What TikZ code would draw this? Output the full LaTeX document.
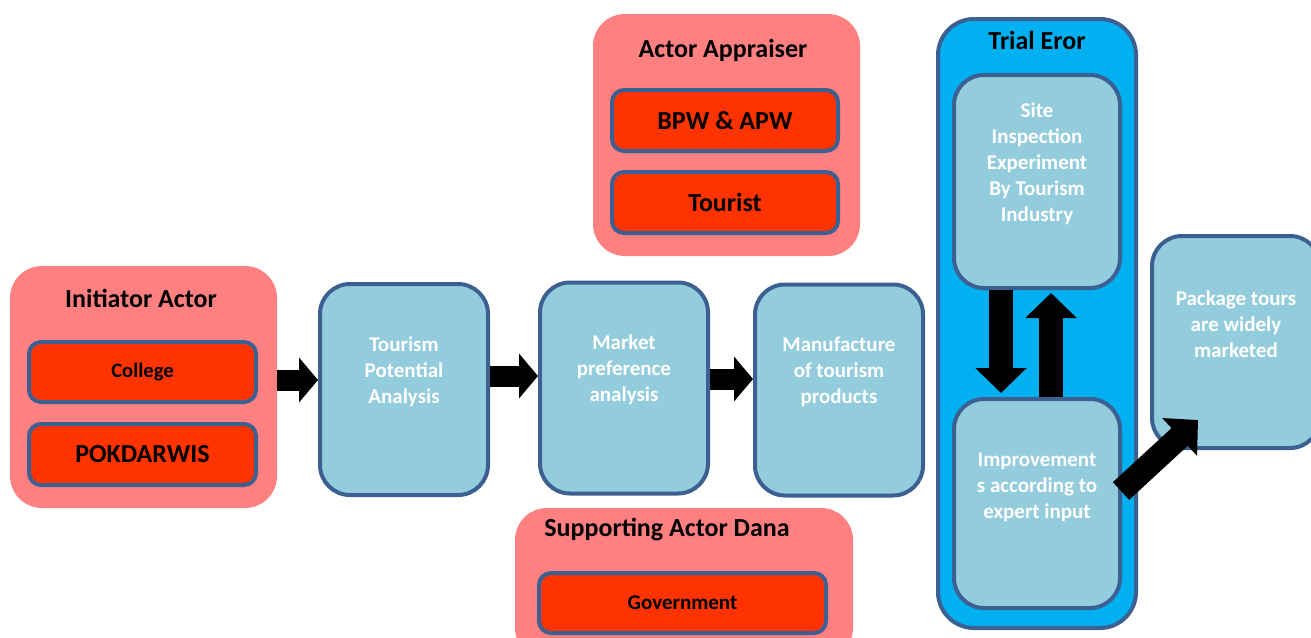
\documentclass[tikz,border=0pt]{standalone}
\usepackage{fontspec}
\setmainfont{Carlito}
\usetikzlibrary{arrows.meta}
\definecolor{pinkc}{RGB}{255,128,128}
\definecolor{redc}{RGB}{255,51,0}
\definecolor{lightb}{RGB}{147,205,221}
\definecolor{borderc}{RGB}{60,96,145}
\definecolor{trialb}{RGB}{0,176,240}
\begin{document}
\begin{tikzpicture}[x=0.5pt,y=-0.5pt,
  container/.style={fill=pinkc, rounded corners=16pt, inner sep=0pt},
  redbox/.style={fill=redc, draw=borderc, line width=2pt, rounded corners=6pt, inner sep=0pt},
  bluebox/.style={fill=lightb, draw=borderc, line width=2pt, rounded corners=15pt, inner sep=0pt, minimum width=84pt, minimum height=105.5pt},
  ttl/.style={font=\bfseries\fontsize{13}{15}\selectfont, text=black},
  wtext/.style={text=white, font=\bfseries\fontsize{10.5}{13}\selectfont, align=center},
  harrow/.style={line width=10.5pt, -{Triangle[length=9.5pt,width=22pt]}},
  varrow/.style={line width=12pt, -{Triangle[length=12.5pt,width=25pt]}}
]
\path[use as bounding box] (0,0) rectangle (1311,637);
\clip (0,0) rectangle (1311,637);

% Initiator Actor
\node[container, minimum width=133.5pt, minimum height=121pt] (initC) at (143.5,387) {};
\node[ttl] (initT) at (141,298) {Initiator Actor};
\node[redbox, minimum width=113.5pt, minimum height=30pt, font=\bfseries\fontsize{10.3}{12}\selectfont] (college) at (142.5,372) {College};
\node[redbox, minimum width=113.5pt, minimum height=30.5pt, font=\bfseries\fontsize{13}{15}\selectfont] (pokd) at (142.5,454.5) {POKDARWIS};

% Actor Appraiser
\node[container, minimum width=133.5pt, minimum height=121pt] (appC) at (726.5,135) {};
\node[ttl] (appT) at (723,50) {Actor Appraiser};
\node[redbox, minimum width=113pt, minimum height=30.5pt, font=\bfseries\fontsize{13}{15}\selectfont] (bpw) at (725,120.5) {BPW \& APW};
\node[redbox, minimum width=113pt, minimum height=30.5pt, font=\bfseries\fontsize{13}{15}\selectfont] (tourist) at (725,202.5) {Tourist};

% Supporting Actor Dana
\node[container, minimum width=169pt, minimum height=76pt] (supC) at (684,584) {};
\node[ttl] (supT) at (667,530) {Supporting Actor Dana};
\node[redbox, minimum width=143.5pt, minimum height=30pt, font=\bfseries\fontsize{10.5}{12}\selectfont] (gov) at (682.5,603) {Government};

% Process boxes
\node[bluebox] (tpa) at (404,389.5) {};
\node[wtext] (tpaT) at ([yshift=8.75pt]tpa.center) {Tourism\\Potential\\Analysis};
\node[bluebox] (mpa) at (624,388) {};
\node[wtext] (mpaT) at ([yshift=9pt]mpa.center) {Market\\preference\\analysis};
\node[bluebox] (mtp) at (839,390) {};
\node[wtext] (mtpT) at ([yshift=9pt]mtp.center) {Manufacture\\of tourism\\products};

% Trial Eror
\node[fill=trialb, draw=borderc, line width=2pt, rounded corners=18pt, minimum width=99pt, minimum height=304.5pt, inner sep=0pt] (trial) at (1037,323.5) {};
\node[ttl] (trialT) at (1037,40) {Trial Eror};
\node[bluebox, minimum width=83pt, minimum height=106.5pt] (site) at (1037,181.5) {};
\node[wtext] (siteT) at ([yshift=8.75pt]site.center) {Site\\Inspection\\Experiment\\By Tourism\\Industry};
\node[bluebox, minimum width=83pt, minimum height=104.5pt] (impr) at (1037,503.5) {};
\node[wtext] (imprT) at ([yshift=8.25pt]impr.center) {Improvement\\s according to\\expert input};

% Package tours
\node[bluebox, minimum width=84pt, minimum height=106pt] (pkg) at (1236,342) {};
\node[wtext] (pkgT) at ([yshift=9pt]pkg.center) {Package tours\\are widely\\marketed};

% Arrows
\coordinate (y1) at (0,380);
\coordinate (y2) at (0,376);
\coordinate (y3) at (0,379);
\draw[harrow] (initC.east |- y1) -- (tpa.west |- y1);
\draw[harrow] (tpa.east |- y2) -- (mpa.west |- y2);
\draw[harrow] (mpa.east |- y3) -- (mtp.west |- y3);

\coordinate (xd) at (1001,0);
\coordinate (xu) at (1051,0);
\draw[varrow] (site.south -| xd) -- ([yshift=2pt]impr.north -| xd);
\draw[varrow] (impr.north -| xu) -- ([yshift=-1.5pt]site.south -| xu);

\coordinate (dstart) at (1121,491);
\coordinate (dend) at ([shift={(24pt,15pt)}]pkg.south west);
\draw[varrow] (dstart) -- (dend);
\end{tikzpicture}
\end{document}
